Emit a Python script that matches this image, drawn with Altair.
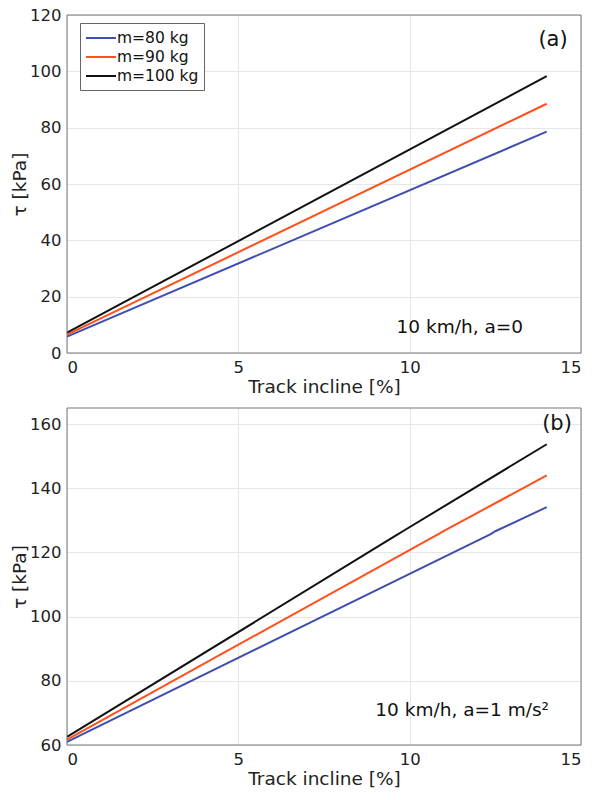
import altair as alt
import pandas as pd

series = ["m=80 kg", "m=90 kg", "m=100 kg"]
colors = ["#3f4fb0", "#ff4f1a", "#111111"]

# panel (a): a = 0
a_x = {"m=80 kg": [0, 14], "m=90 kg": [0, 14], "m=100 kg": [0, 14]}
a_y = {"m=80 kg": [5.8, 78.6], "m=90 kg": [6.5, 88.5], "m=100 kg": [7.2, 98.3]}

# panel (b): a = 1 m/s^2 (small step near 126 kPa)
b_x = {"m=80 kg": [0, 12.35, 12.5, 14],
       "m=90 kg": [0, 10.85, 11.0, 14],
       "m=100 kg": [0, 9.65, 9.8, 14]}
b_y = {"m=80 kg": [61.0, 125.6, 126.6, 134.1],
       "m=90 kg": [61.7, 125.8, 126.7, 144.0],
       "m=100 kg": [62.5, 125.6, 126.6, 153.7]}

x_ticks = [0, 5, 10, 15]
a_ticks = [0, 20, 40, 60, 80, 100, 120]
b_ticks = [60, 80, 100, 120, 140, 160]

FONT = "DejaVu Sans"
W = 514


def frame(xs, ys):
    rows = []
    for s in series:
        for i, (x, y) in enumerate(zip(xs[s], ys[s])):
            rows.append({"m": s, "x": x, "y": y, "o": i})
    return pd.DataFrame(rows)


def panel(df, ydom, yticks, tag, note, tagpos, notepos, h, legpos):
    lines = alt.Chart(df).mark_line(strokeWidth=2).encode(
        x=alt.X("x:Q", scale=alt.Scale(domain=[0, 15], nice=False),
                axis=alt.Axis(values=x_ticks, title="Track incline [%]")),
        y=alt.Y("y:Q", scale=alt.Scale(domain=ydom, nice=False),
                axis=alt.Axis(values=yticks, title="τ [kPa]")),
        color=alt.Color("m:N", sort=series,
                        scale=alt.Scale(domain=series, range=colors),
                        legend=alt.Legend(title=None, orient="none",
                                          legendX=legpos[0], legendY=legpos[1],
                                          symbolType="M-1,0L2.333,0",
                                          symbolStrokeWidth=2,
                                          symbolSize=324,
                                          labelFontSize=15.5, labelFont=FONT,
                                          labelColor="#111111",
                                          strokeColor="#666666", fillColor="white",
                                          padding=5, rowPadding=0,
                                          labelOffset=12)),
        order="o:Q",
        detail="m:N",
    )
    box = alt.Chart(pd.DataFrame({"k": [0]})).mark_rect(
        fill=None, fillOpacity=0, stroke="#777777", strokeWidth=1).encode(
        x=alt.value(0), x2=alt.value(W), y=alt.value(0), y2=alt.value(h))
    t1 = alt.Chart(pd.DataFrame({"t": [tag]})).mark_text(
        fontSize=21, font=FONT, color="#111111").encode(
        text="t:N", x=alt.value(tagpos[0]), y=alt.value(tagpos[1]))
    t2 = alt.Chart(pd.DataFrame({"t": [note]})).mark_text(
        fontSize=18.5, font=FONT, color="#111111", align="right").encode(
        text="t:N", x=alt.value(notepos[0]), y=alt.value(notepos[1]))
    return alt.layer(lines, box, t1, t2).properties(width=W, height=h)


top = panel(frame(a_x, a_y), [0, 120], a_ticks, "(a)", "10 km/h, a=0",
            (486, 25), (456, 312), 338, (13, 8))
bot = panel(frame(b_x, b_y), [60, 165], b_ticks, "(b)", "10 km/h, a=1 m/s²",
            (490, 16), (482, 302), 337, (9, 12))

chart = alt.vconcat(top, bot, spacing=11).configure(
    background="white"
).configure_axis(
    labelFont=FONT, titleFont=FONT, labelFontSize=16.5, titleFontSize=18.5,
    labelColor="#222222", titleColor="#222222", titleFontWeight="normal",
    gridColor="#e6e6e6", domain=False, tickSize=0, labelPadding=6,
).configure_axisX(titlePadding=2).configure_axisY(titlePadding=0).configure_view(
    stroke=None
).properties(padding={"left": 10, "top": 7, "right": 0, "bottom": 3})

chart.save("out.html", embed_options={"renderer": "svg", "actions": False})
